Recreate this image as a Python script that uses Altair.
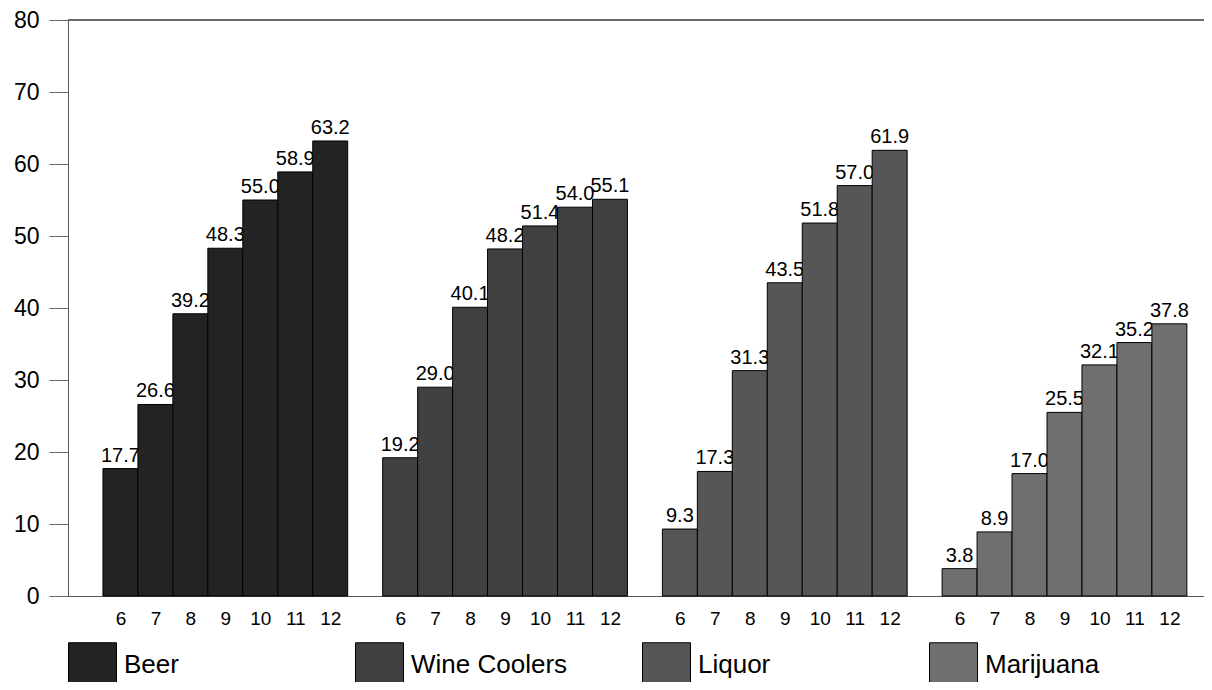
import altair as alt
import pandas as pd

substances = ["Beer", "Wine Coolers", "Liquor", "Marijuana"]
grades = [6, 7, 8, 9, 10, 11, 12]
beer = [17.7, 26.6, 39.2, 48.3, 55.0, 58.9, 63.2]
wine_coolers = [19.2, 29.0, 40.1, 48.2, 51.4, 54.0, 55.1]
liquor = [9.3, 17.3, 31.3, 43.5, 51.8, 57.0, 61.9]
marijuana = [3.8, 8.9, 17.0, 25.5, 32.1, 35.2, 37.8]
colors = ["#232323", "#404040", "#565656", "#6f6f6f"]

series = [beer, wine_coolers, liquor, marijuana]
rows = []
for g, (name, vals) in enumerate(zip(substances, series)):
    for i, (grade, v) in enumerate(zip(grades, vals)):
        slot = g * 8 + i + 1
        rows.append({"substance": name, "grade": grade, "value": v,
                     "slot": slot, "slot_end": slot + 1, "mid": slot + 0.5})
df = pd.DataFrame(rows)
centers = [r["mid"] for r in rows]

FONT = "Arial"

xscale = alt.Scale(domain=[0, 32.49], nice=False, zero=False, padding=0)
yscale = alt.Scale(domain=[0, 80], nice=False, padding=0)

base = alt.Chart(df)

labels = base.mark_text(font=FONT, fontSize=20, baseline="alphabetic",
                        align="center", dy=-7, color="black").encode(
    x=alt.X("mid:Q", scale=xscale,
            axis=alt.Axis(values=centers, labelExpr="(datum.value - 0.5) % 8 + 5",
                          ticks=False, tickSize=0, labelPadding=13, labelFontSize=19,
                          labelFont=FONT, labelColor="black", domainColor="#555555",
                          domainWidth=1, grid=False, title=None, labelFlush=False,
                          labelOverlap=False)),
    y=alt.Y("value:Q", scale=yscale,
            axis=alt.Axis(values=[0, 10, 20, 30, 40, 50, 60, 70, 80], tickSize=19,
                          tickColor="#666666", tickWidth=1, domainColor="#555555",
                          labelFontSize=23, labelFont=FONT, labelColor="black",
                          labelPadding=10, grid=False, title=None)),
    text=alt.Text("value:Q", format=".1f"),
)

bars = base.mark_bar(stroke="black", strokeWidth=1, opacity=1).encode(
    x=alt.X("slot:Q", scale=xscale),
    x2="slot_end:Q",
    y=alt.Y("value:Q", scale=yscale),
    y2=alt.datum(0),
    color=alt.Color("substance:N",
                    scale=alt.Scale(domain=substances, range=colors),
                    legend=alt.Legend(orient="none", legendX=0, legendY=628,
                                      direction="horizontal", title=None,
                                      symbolType="M-1,-1.25H1V1.25H-1Z",
                                      symbolSize=2304, symbolStrokeColor="black",
                                      symbolStrokeWidth=1, symbolOpacity=1,
                                      labelFont=FONT, labelFontSize=26,
                                      labelColor="black", labelBaseline="alphabetic",
                                      labelOffset=7, columnPadding=72,
                                      gridAlign="all", padding=0, labelLimit=400)),
)

top_line = alt.Chart(df).mark_rule(color="#6a6a6a", strokeWidth=1.5).encode(
    y=alt.datum(80, scale=yscale)
)

chart = alt.layer(labels, bars, top_line).properties(
    width=1136, height=576,
    autosize=alt.AutoSizeParams(type="none"),
    padding={"left": 60, "top": 12, "right": 0, "bottom": 86},
).configure_view(stroke=None).configure(background="white")

chart.save("out.html", embed_options={"renderer": "svg", "actions": False})
